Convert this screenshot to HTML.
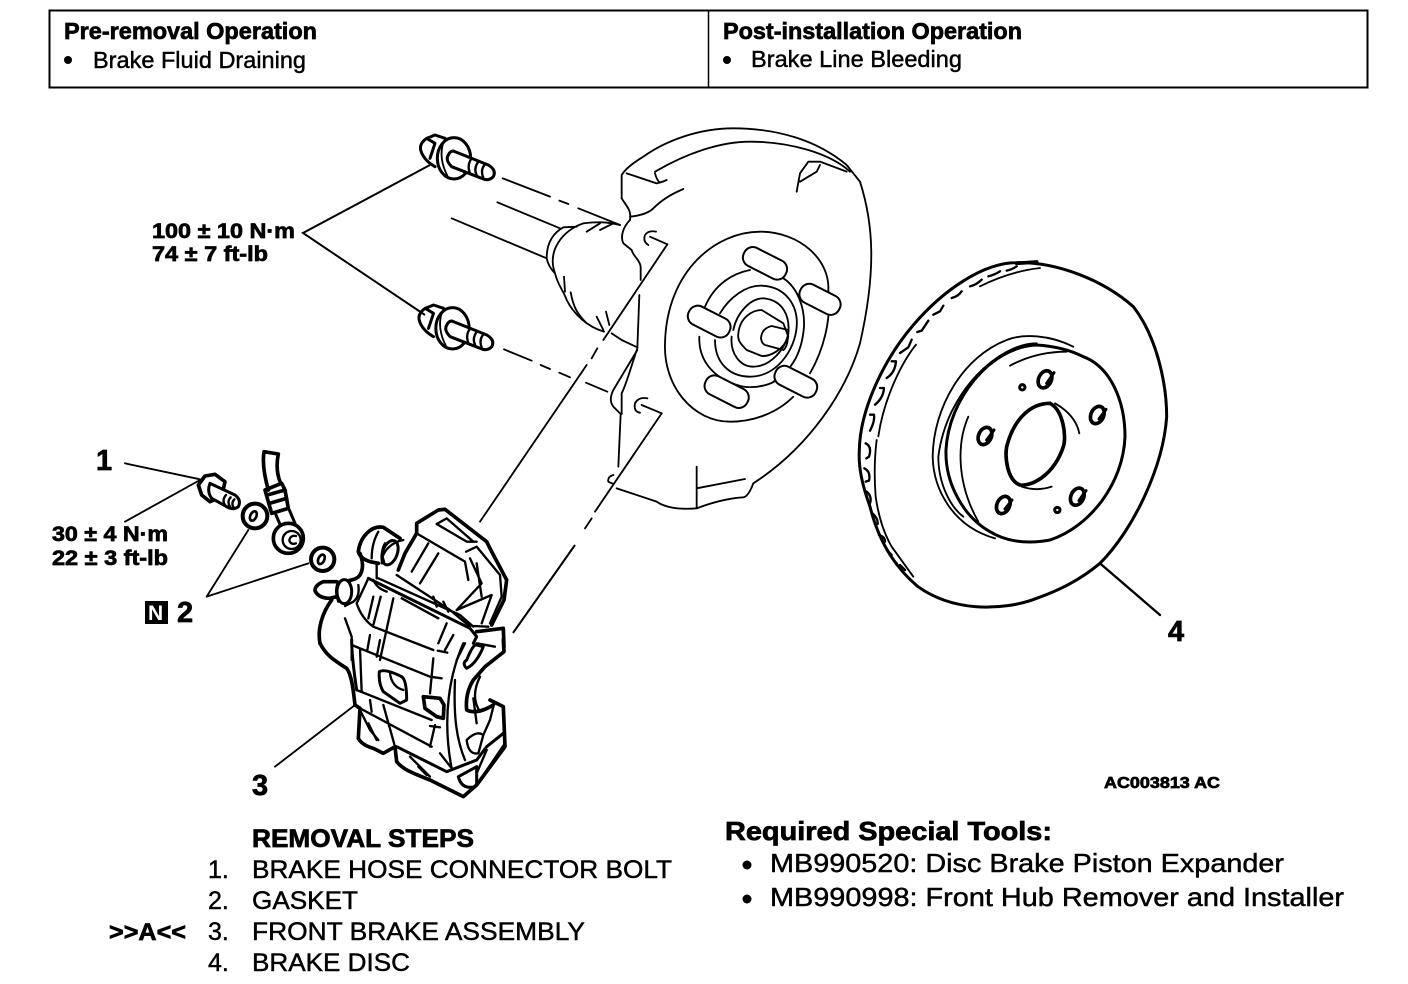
<!DOCTYPE html>
<html>
<head>
<meta charset="utf-8">
<style>
html,body{margin:0;padding:0;background:#fff;width:1408px;height:984px;overflow:hidden}
svg{display:block}
text{font-family:"Liberation Sans",Arial,sans-serif;fill:#000;stroke:#000;stroke-width:.45}
.b{font-weight:bold;stroke-width:.7}
.l{fill:none;stroke:#000;stroke-width:5.5;stroke-linecap:round;stroke-linejoin:round}
.t{fill:none;stroke:#000;stroke-width:7;stroke-linecap:round;stroke-linejoin:round}
.h{fill:none;stroke:#000;stroke-width:9;stroke-linecap:round;stroke-linejoin:round}
.x{fill:none;stroke:#000;stroke-width:11;stroke-linecap:round;stroke-linejoin:round}
.w{fill:#fff;stroke:#000;stroke-width:6;stroke-linejoin:round}
</style>
</head>
<body>
<svg width="1408" height="984" viewBox="0 0 1408 984" xmlns="http://www.w3.org/2000/svg">
<rect width="1408" height="984" fill="#fff"/>

<!-- header -->
<rect x="49.5" y="10.5" width="1318" height="77" fill="none" stroke="#000" stroke-width="2"/>
<line x1="708.5" y1="10" x2="708.5" y2="87" stroke="#000" stroke-width="1.5"/>
<text class="b" x="64" y="39" font-size="23" textLength="253" lengthAdjust="spacingAndGlyphs">Pre-removal Operation</text>
<circle cx="68" cy="60" r="4" fill="#000"/>
<text x="93" y="68" font-size="23" textLength="213" lengthAdjust="spacingAndGlyphs">Brake Fluid Draining</text>
<text class="b" x="723" y="39" font-size="23" textLength="299" lengthAdjust="spacingAndGlyphs">Post-installation Operation</text>
<circle cx="727" cy="60" r="4" fill="#000"/>
<text x="751" y="67" font-size="23" textLength="211" lengthAdjust="spacingAndGlyphs">Brake Line Bleeding</text>

<!-- labels -->
<text class="b" x="152" y="238" font-size="21" textLength="143" lengthAdjust="spacingAndGlyphs">100 ± 10 N·m</text>
<text class="b" x="152" y="261" font-size="21" textLength="116" lengthAdjust="spacingAndGlyphs">74 ± 7 ft-lb</text>
<path d="M430,165 L303,233 L425,315" fill="none" stroke="#000" stroke-width="2"/>
<text class="b" x="96" y="470" font-size="29">1</text>
<text class="b" x="52" y="541" font-size="21" textLength="116" lengthAdjust="spacingAndGlyphs">30 ± 4 N·m</text>
<text class="b" x="52" y="565" font-size="21" textLength="116" lengthAdjust="spacingAndGlyphs">22 ± 3 ft-lb</text>
<rect x="145" y="601" width="23" height="23" fill="#000"/>
<text x="148" y="620" font-size="21" font-weight="bold" style="fill:#fff;stroke:none">N</text>
<text class="b" x="177" y="622" font-size="29">2</text>
<text class="b" x="252" y="795" font-size="29">3</text>
<text class="b" x="1168" y="641" font-size="29">4</text>
<text class="b" x="1104" y="788" font-size="16" textLength="116" lengthAdjust="spacingAndGlyphs">AC003813 AC</text>

<text class="b" x="252" y="847" font-size="25" textLength="222" lengthAdjust="spacingAndGlyphs">REMOVAL STEPS</text>
<text x="208" y="878" font-size="25">1.</text>
<text x="252" y="878" font-size="25" textLength="420" lengthAdjust="spacingAndGlyphs">BRAKE HOSE CONNECTOR BOLT</text>
<text x="208" y="909" font-size="25">2.</text>
<text x="252" y="909" font-size="25" textLength="106" lengthAdjust="spacingAndGlyphs">GASKET</text>
<text class="b" x="109" y="940" font-size="24" textLength="77" lengthAdjust="spacingAndGlyphs">&gt;&gt;A&lt;&lt;</text>
<text x="208" y="940" font-size="25">3.</text>
<text x="252" y="940" font-size="25" textLength="333" lengthAdjust="spacingAndGlyphs">FRONT BRAKE ASSEMBLY</text>
<text x="208" y="971" font-size="25">4.</text>
<text x="252" y="971" font-size="25" textLength="158" lengthAdjust="spacingAndGlyphs">BRAKE DISC</text>

<text class="b" x="725" y="840" font-size="26" textLength="327" lengthAdjust="spacingAndGlyphs">Required Special Tools:</text>
<circle cx="747" cy="865" r="4.5" fill="#000"/>
<text x="770" y="872" font-size="26" textLength="514" lengthAdjust="spacingAndGlyphs">MB990520: Disc Brake Piston Expander</text>
<circle cx="747" cy="899" r="4.5" fill="#000"/>
<text x="770" y="906" font-size="26" textLength="574" lengthAdjust="spacingAndGlyphs">MB990998: Front Hub Remover and Installer</text>

<!-- hub -->
<g transform="translate(400,110) scale(.33333)">
  <path class="l" d="M665,265 L665,195 Q680,170 730,140 C800,90 900,55 1000,55 C1130,55 1250,90 1340,165 L1380,215 C1420,340 1430,480 1380,700 C1340,840 1230,1010 1060,1120 Q1045,1160 1030,1162 C980,1165 930,1180 890,1195 C830,1200 790,1190 770,1175 L650,1135"/>
  <path class="l" d="M665,265 C680,290 695,300 690,330 M690,320 Q740,315 760,295 C790,265 820,250 850,237 M680,190 L770,220 Q790,215 800,210 M765,190 Q770,210 780,218 M765,185 C860,130 960,95 1050,95 C1170,95 1290,130 1350,185"/>
  <path class="l" d="M1190,245 L1200,190 L1225,155 L1260,155 L1340,185 M1200,215 L1250,185 L1260,165"/>
  <path class="l" d="M690,330 C670,350 660,380 670,400 L695,420 C700,440 720,450 722,470 L722,510 M718,555 L712,715 C690,780 680,820 665,850 L665,912 M712,720 L640,840 Q625,870 640,890 L662,912 L655,1070"/>
  <path class="l" d="M768,365 Q745,360 735,375 Q728,395 745,405 M750,380 L802,403 M742,865 Q715,860 705,880 Q700,905 720,908 M725,885 L785,910 M640,1095 Q622,1100 625,1115 L640,1122"/>
  <path class="l" d="M802,403 L610,690 M592,715 L575,745 M560,765 L240,1235 M785,910 L585,1205 M575,1225 L555,1255"/>
  <path class="l" d="M890,1070 L890,1195 M890,1135 L1035,1107"/>
  <path class="l" d="M795,700 C800,480 950,365 1080,365 C1200,365 1290,450 1285,540 C1295,630 1270,720 1230,790 M1180,860 C1130,910 1060,935 990,935 C880,935 790,830 795,700"/>
  <path class="l" d="M915,590 C945,520 1000,490 1050,480 M1150,505 C1190,530 1215,590 1212,650 C1205,740 1165,790 1120,815 M898,680 C895,750 940,810 1030,830 C1070,835 1110,825 1130,810"/>
  <path class="l" d="M960,610 C990,560 1040,525 1085,527 C1160,530 1195,590 1190,650 C1185,720 1130,800 1050,800 C990,800 945,760 945,690"/>
  <path class="l" d="M1000,660 C1010,610 1050,565 1090,565 C1150,570 1170,620 1165,670 C1155,720 1110,770 1060,770 C1020,770 990,730 995,680"/>
  <path class="l" d="M1015,670 C1020,620 1060,600 1085,600 L1150,640 L1165,680 C1150,720 1110,740 1085,738 L1040,720 C1020,700 1012,690 1015,670"/>
  <path class="l" d="M1165,660 L1115,648 Q1085,655 1083,685 Q1085,700 1095,705 L1150,720 M1165,660 Q1165,710 1150,720"/>
  <rect class="w" x="1025" y="430" width="140" height="60" rx="28" transform="rotate(27 1095 460)"/>
  <rect class="w" x="1195" y="538" width="130" height="60" rx="28" transform="rotate(27 1260 568)"/>
  <rect class="w" x="860" y="605" width="135" height="60" rx="28" transform="rotate(27 928 635)"/>
  <rect class="w" x="1120" y="785" width="135" height="60" rx="28" transform="rotate(27 1187 815)"/>
  <rect class="w" x="910" y="815" width="140" height="60" rx="28" transform="rotate(27 980 845)"/>
  <path class="l" d="M292,277 L480,355 M155,325 L440,445 M440,445 Q440,380 490,352 L530,350 M465,490 C440,420 490,360 550,340 C590,335 620,335 660,345 M440,445 Q445,470 465,490 C475,530 490,540 500,570 C520,610 560,650 612,665 M492,500 L495,545 M512,547 C520,590 530,610 560,640 M560,365 L600,340 M600,360 L640,340 M590,620 L610,660 M618,605 L628,645 M635,670 L665,690 L712,712"/>
  <path class="l" d="M308,205 L450,260 M478,272 L505,282 M535,295 L660,345 M312,718 L395,752 M422,765 L450,777 M478,788 L510,802 M558,818 L622,845"/>
</g>
<line x1="575" y1="545" x2="513" y2="633" stroke="#000" stroke-width="2"/>

<!-- top and lower bolts -->
<g transform="translate(410,125) scale(.33333)">
  <path class="h" d="M32,75 Q28,55 50,40 L75,30 L105,40 M32,75 Q40,105 75,125 M50,40 L75,55 L60,100"/>
  <ellipse class="h" cx="132" cy="100" rx="50" ry="62" style="fill:#fff"/>
  <path class="l" d="M100,52 Q85,100 112,152"/>
  <path class="h" d="M130,78 L235,120 Q260,135 250,155 Q235,170 215,160 L125,125 Q105,105 115,90 Q120,78 130,78" style="fill:#fff"/>
  <path class="t" d="M185,100 Q170,120 180,145 M205,110 Q190,130 200,150 M225,118 Q210,135 220,158"/>
</g>
<g transform="translate(408.5,295) scale(.33333)">
  <path class="h" d="M32,75 Q28,55 50,40 L75,30 L105,40 M32,75 Q40,105 75,125 M50,40 L75,55 L60,100"/>
  <ellipse class="h" cx="132" cy="100" rx="50" ry="62" style="fill:#fff"/>
  <path class="l" d="M100,52 Q85,100 112,152"/>
  <path class="h" d="M130,78 L235,120 Q260,135 250,155 Q235,170 215,160 L125,125 Q105,105 115,90 Q120,78 130,78" style="fill:#fff"/>
  <path class="t" d="M185,100 Q170,120 180,145 M205,110 Q190,130 200,150 M225,118 Q210,135 220,158"/>
</g>

<!-- leaders, small parts -->
<g transform="translate(40,430) scale(.33333)">
  <path class="l" d="M255,100 L480,148 M255,275 L480,150 M500,500 L625,300 M500,500 L805,400 M705,1010 L945,825"/>
</g>
<g transform="translate(190,440) scale(.33333)">
  <path class="x" d="M25,135 L45,108 L75,103 L105,125 L95,170 L60,185 L35,165 Z" style="fill:#fff"/>
  <path class="h" d="M60,130 L135,165 Q155,180 145,200 Q130,212 110,200 L65,175 Q50,155 60,130 Z" style="fill:#fff"/>
  <path class="t" d="M108,165 Q95,180 105,195 M122,172 Q110,185 120,200 M133,178 Q122,190 132,205"/>
  <path class="x" d="M222,35 L265,42 Q255,90 272,130 M222,35 Q215,80 235,150 M225,150 L275,130 L285,150 L295,205 L245,220 L232,175 Z M232,165 L285,150 M238,190 L290,175"/>
  <path class="h" d="M258,225 L275,265 M298,210 L315,250"/>
  <circle cx="295" cy="295" r="45" fill="#fff" stroke="#000" stroke-width="11"/>
  <circle cx="305" cy="300" r="27" fill="#fff" stroke="#000" stroke-width="7"/>
  <path class="t" d="M318,288 Q300,285 298,302 Q302,315 318,310"/>
  <circle cx="195" cy="228" r="37" fill="#fff" stroke="#000" stroke-width="12"/>
  <ellipse cx="190" cy="228" rx="9" ry="15" transform="rotate(25 190 228)" fill="none" stroke="#000" stroke-width="8"/>
  <circle cx="398" cy="358" r="35" fill="#fff" stroke="#000" stroke-width="12"/>
  <ellipse cx="394" cy="358" rx="9" ry="15" transform="rotate(25 394 358)" fill="none" stroke="#000" stroke-width="8"/>
</g>

<!-- caliper upper -->
<g transform="translate(310,500) scale(.33333)">
  <path class="x" d="M265,210 L285,160 L320,100 L320,70 L385,30 L405,28 L530,125 L545,155 L590,240 L582,300 L545,375"/>
  <path class="t" d="M380,72 L410,55 L490,125 M380,72 L470,125 L500,125 M320,100 L465,185 L475,240 M355,130 L305,215 M385,160 L330,250 M468,155 L500,140 L570,225 L575,290 L540,370 M480,175 L515,250 L440,330 M500,190 L515,290 M440,330 L545,285 L515,370"/>
  <path class="x" d="M145,155 C150,110 185,75 220,82 L270,115 M145,155 Q150,175 180,185 L205,190"/>
  <ellipse class="h" cx="240" cy="158" rx="22" ry="38" transform="rotate(20 240 158)"/>
  <path class="t" d="M280,120 C250,125 215,150 215,190 M205,95 Q185,130 185,175 M225,130 Q210,155 222,185"/>
  <path class="x" d="M150,160 Q165,200 150,225 C140,240 120,240 105,245"/>
  <path class="t" d="M200,190 L200,235"/>
  <path class="x" d="M80,245 L40,245 Q15,255 15,272 Q25,295 60,295 L80,290"/>
  <ellipse class="h" cx="103" cy="275" rx="22" ry="36" style="fill:#fff"/>
  <path class="t" d="M85,245 Q72,270 85,305 M145,255 Q150,290 130,305 L105,318"/>
  <path class="x" d="M65,300 C35,340 22,390 30,430"/>
  <path class="h" d="M175,235 L480,385 L500,410 L490,430"/>
  <path class="t" d="M205,235 L450,345 L490,380 M260,225 L420,330 L480,380 M190,240 Q200,265 230,275 M275,295 L385,355 M370,290 L380,320 M400,305 L415,335"/>
  <path class="t" d="M175,235 L140,310 Q155,355 190,380 L370,450 M105,355 L125,410 L125,480 M190,290 L175,355 M212,290 L190,375 M250,295 L210,480 M180,405 L172,450 M410,370 L385,430 M430,405 L405,450 M383,452 L412,458"/>
  <path class="x" d="M500,395 L580,385 L582,440"/>
  <path class="t" d="M490,378 L535,380 M465,430 L440,480 M500,430 L555,440"/>
</g>

<!-- caliper lower -->
<g transform="translate(320,640) scale(.33333)">
  <path class="x" d="M0,10 C20,50 50,65 80,85 C95,105 100,150 105,195 L120,205 L115,295 Q125,315 160,325 L190,340 L225,320 L230,365 C250,390 280,400 330,420 L430,470 L470,435 L555,320 L550,200 L510,180"/>
  <path class="x" d="M550,0 L552,35 L495,80 L460,120 Q435,160 440,210 Q470,225 520,195"/>
  <path class="h" d="M95,0 Q95,50 110,150"/>
  <path class="t" d="M120,25 L125,155 M95,15 L330,110 M110,150 L335,240 M120,205 L335,320 M180,0 L170,50 M150,180 L155,215 M190,195 L225,320 M340,55 L330,160 M330,110 L365,115 M345,255 L330,320 M330,258 L360,262 M360,340 L395,385"/>
  <path class="h" d="M178,95 Q195,85 245,110 Q260,120 260,180 L240,190 L190,155 Q175,130 178,95 Z"/>
  <path class="t" d="M210,100 Q215,140 250,150"/>
  <path class="x" d="M310,170 L360,175 L372,195 L370,235 L350,230 L315,205 Z"/>
  <path class="t" d="M430,10 C390,100 365,230 395,385 M405,120 C400,230 410,300 435,360 M120,210 L150,270 L175,300 M145,250 L170,300"/>
  <path class="h" d="M230,320 L380,395 L470,360 L500,320 L550,280 M415,410 Q425,450 465,440 M415,410 L470,380 M470,435 L470,380"/>
  <path class="t" d="M500,330 L470,400 M555,310 L480,420 M270,350 L330,410 M295,380 L320,405"/>
  <path class="t" d="M440,300 Q470,270 490,285 L475,340 Q445,345 440,300 M460,175 L470,250 M480,110 Q450,170 480,215 M520,200 L510,240 L490,285"/>
  <path class="h" d="M440,60 Q460,10 470,15 L490,20 Q470,70 440,85 Q425,70 440,60"/>
</g>

<!-- disc -->
<g transform="translate(850,250) scale(.33333)">
  <path class="h" d="M28,600 C30,480 100,330 190,225 C280,120 400,38 500,38 C620,35 760,90 850,170 C920,260 950,400 950,500 C940,650 850,840 750,940 C690,990 630,1020 560,1045 C510,1065 440,1075 375,1070 C320,1065 260,1050 204,1010 C120,940 80,850 60,770 C35,700 25,650 28,600"/>
  <path class="t" d="M750,940 L930,1095"/>
  <path class="h" d="M700,320 C780,350 825,450 825,560 C820,700 720,830 600,870 C520,885 460,870 420,845 C340,800 285,700 288,600 C295,450 420,290 560,285 Q640,290 700,320"/>
  <path class="l" d="M480,347 C530,320 590,305 650,305 M355,500 C320,580 320,700 385,815 M670,290 C600,255 520,250 470,270 C340,320 250,470 248,620 C250,720 310,830 435,865 M560,280 C450,280 290,420 265,620 C265,700 300,770 340,800"/>
  <path class="x" d="M600,460 C640,480 650,560 640,590 C610,680 540,710 510,705 C470,690 465,620 470,590 C490,510 540,460 600,460"/>
  <path class="l" d="M615,460 C650,480 680,510 688,550 M515,710 Q560,725 605,710"/>
  <ellipse class="x" cx="585" cy="388" rx="19" ry="27" transform="rotate(25 585 388)"/>
  <ellipse class="x" cx="742" cy="495" rx="19" ry="27" transform="rotate(25 742 495)"/>
  <ellipse class="x" cx="405" cy="558" rx="19" ry="27" transform="rotate(25 405 558)"/>
  <ellipse class="x" cx="460" cy="765" rx="19" ry="27" transform="rotate(25 460 765)"/>
  <ellipse class="x" cx="682" cy="740" rx="19" ry="27" transform="rotate(25 682 740)"/>
  <path class="h" d="M590,400 L612,368 M747,507 L768,478 M410,570 L432,540 M465,777 L486,750 M687,752 L708,722"/>
  <circle cx="517" cy="412" r="8" fill="none" stroke="#000" stroke-width="9"/>
  <circle cx="622" cy="780" r="8" fill="none" stroke="#000" stroke-width="9"/>
</g>
<!-- disc vents, upper-left -->
<g transform="translate(860,258) scale(.33333)">
  <path class="l" d="M168,260 C120,320 70,430 55,535 M360,85 Q450,40 540,30"/>
  <path class="t" d="M172,222 L185,218 L205,188 M120,285 L145,268 L155,245 M80,360 Q105,345 108,310 L95,310 M45,440 Q70,420 72,390 L60,390 M30,518 Q45,490 42,470 L30,470 M220,170 L240,160 L250,143 M275,120 Q295,115 305,100 M330,85 Q350,80 365,65 M385,55 Q405,50 420,40 M440,38 Q455,35 470,25"/>
  <path class="x" d="M470,16 L530,12"/>
</g>
<!-- disc vents, lower-left -->
<g transform="translate(855,440) scale(.33333)">
  <path class="l" d="M65,0 Q55,80 62,170 Q75,260 110,320 L175,410"/>
  <path class="t" d="M32,10 Q52,20 42,50 L34,55 M28,85 Q48,95 42,122 L32,125 M35,155 Q52,170 45,190 M50,218 Q70,235 68,252 M72,285 Q90,290 90,305 M95,330 L110,345 M115,360 L125,370 M135,375 L150,390"/>
</g>
</svg>
</body>
</html>
